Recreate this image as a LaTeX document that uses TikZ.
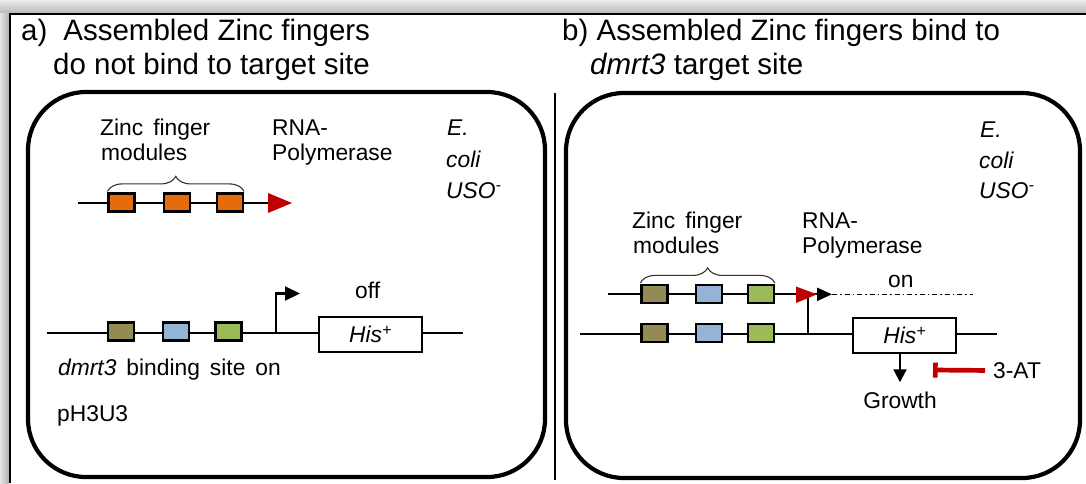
\documentclass[tikz,border=0pt]{standalone}
\usepackage{fontspec}
\setmainfont{Liberation Sans}
\usetikzlibrary{arrows.meta,decorations.pathreplacing}
\definecolor{zforange}{HTML}{E46C0A}
\definecolor{zfolive}{HTML}{948A54}
\definecolor{zfblue}{HTML}{95B3D7}
\definecolor{zfgreen}{HTML}{9BBB59}
\definecolor{polred}{HTML}{C00000}
\newcommand\labfont{\fontsize{22.8}{25}\selectfont\spaceskip=10pt\relax}

\begin{document}
\begin{tikzpicture}[x=1pt,y=-1pt,
    title/.style={anchor=base west,inner sep=0pt,font=\fontsize{29.5}{34}\selectfont},
    lab/.style={anchor=base west,inner sep=0pt,font=\labfont},
    org/.style={lab,font=\fontsize{22.8}{25}\selectfont\itshape},
    strand/.style={line width=2.1pt},
    zfbox/.style={draw,line width=2.2pt,minimum width=26pt,minimum height=18pt,inner sep=0pt},
    hisbox/.style={draw,fill=white,line width=2.1pt,minimum width=103pt,minimum height=35pt,inner sep=0pt,font=\fontsize{22.8}{25}\selectfont\itshape},
    cell/.style={line width=4.2pt,rounded corners=58pt},
    zfbrace/.style={decorate,decoration={brace,amplitude=15pt},line width=1.1pt,draw=black!80},
    tss/.style={strand,-{Triangle[length=15pt,width=14pt]}},
    ]
  \useasboundingbox (0,0) rectangle (1086,483);

  % window frame
  \shade[top color=gray!15,bottom color=gray!55] (0,0) rectangle (1086,13);
  \shade[left color=gray!20,right color=gray!60] (0,13) rectangle (9,483);
  \draw[line width=1.5pt] (1086,14) -- (10,14) -- (10,483);

  % the two cells and the divider
  \draw[cell] (28,92) rectangle (545,477);
  \draw[cell] (566,93) rectangle (1080,478);
  \draw[line width=1.5pt] (555,93) -- (555,480);

  % titles
  \node[title] (titleA1) at (21,40) {a)\hspace{16pt}Assembled Zinc fingers};
  \node[title] (titleA2) at (53,74) {do not bind to target site};
  \node[title] (titleB1) at (562,40) {b) Assembled Zinc fingers bind to};
  \node[title] (titleB2) at (590,74) {\textit{dmrt3} target site};

  %%% a) no binding
  \node[lab] (zincA) at (100,135) {Zinc finger};
  \node[lab] (modA) at (101,160) {modules};
  \node[lab] (rnaA) at (272,135) {RNA-};
  \node[lab] (polA) at (272,160) {Polymerase};
  \node[org] (ecoA1) at (447,135) {E.};
  \node[org] (ecoA2) at (446,167) {coli};
  \node[org] (ecoA3) at (446,198) {USO\textsuperscript{-}};

  \coordinate (fusA0) at (78,203);
  \coordinate (fusA1) at (270,203);
  \draw[strand] (fusA0) -- (fusA1);
  \foreach \x [count=\i] in {121.5,177,230}
    \node[zfbox,fill=zforange] (zfA\i) at (\x,202.5) {};
  \fill[polred] (268,193) -- (292,203) -- (268,213) -- cycle;
  \draw[zfbrace] ([yshift=1pt]zfA1.north west) -- ([yshift=1pt]zfA3.north east);

  \coordinate (dnaA0) at (47,333);
  \coordinate (dnaA1) at (463,333);
  \draw[strand] (dnaA0) -- (dnaA1);
  \foreach \x/\c [count=\i] in {121/zfolive,176/zfblue,228.5/zfgreen}
    \node[zfbox,fill=\c] (bsA\i) at (\x,331.5) {};
  \node[hisbox] (hisA) at (370.5,334.5) {His\textsuperscript{+}};
  \coordinate (tssA) at (276,333);
  \coordinate (tssAend) at (300,293.5);
  \draw[tss] (tssA) |- (tssAend);
  \node[lab] (offA) at (355,298) {off};
  \node[lab] (siteA1) at (58,375) {\textit{dmrt3} binding site on};
  \node[lab] (siteA2) at (57,421) {pH3U3};

  %%% b) binding
  \node[lab] (zincB) at (632,228) {Zinc finger};
  \node[lab] (modB) at (633,253) {modules};
  \node[lab] (rnaB) at (802,228) {RNA-};
  \node[lab] (polB) at (802,253) {Polymerase};
  \node[org] (ecoB1) at (980,137) {E.};
  \node[org] (ecoB2) at (979,168) {coli};
  \node[org] (ecoB3) at (979,198) {USO\textsuperscript{-}};

  \coordinate (fusB0) at (608,294.3);
  \coordinate (fusB1) at (796,294.3);
  \draw[strand] (fusB0) -- (fusB1);
  \foreach \x/\c [count=\i] in {654.5/zfolive,708.8/zfblue,760.8/zfgreen}
    \node[zfbox,fill=\c] (zfB\i) at (\x,294) {};
  \draw[zfbrace] ([yshift=1pt]zfB1.north west) -- ([yshift=1pt]zfB3.north east);

  \coordinate (dnaB0) at (580,334);
  \coordinate (dnaB1) at (997,334);
  \draw[strand] (dnaB0) -- (dnaB1);
  \foreach \x/\c [count=\i] in {654.5/zfolive,708.8/zfblue,760.8/zfgreen}
    \node[zfbox,fill=\c] (bsB\i) at (\x,333) {};
  \node[hisbox] (hisB) at (904.7,335.7) {His\textsuperscript{+}};

  \coordinate (tssB) at (808,334);
  \coordinate (tssBend) at (832,294.3);
  \coordinate (mrnaB) at (973,294.3);
  \draw[tss,-{Triangle[length=15pt,width=13pt]}] (tssB) |- (tssBend);
  \fill[polred] (796,286.5) -- (817,294.3) -- (796,303) -- cycle;
  \draw[line width=1.5pt,dash pattern=on 5pt off 3pt on 1.5pt off 3pt] (tssBend) -- (mrnaB);
  \node[lab] (onB) at (888,287) {on};

  \node[lab,anchor=base] (growB) at (900,408) {Growth};
  \draw[strand,-{Triangle[length=13pt,width=13pt]}] (hisB.south -| growB) -- ([yshift=9pt]growB.north);
  \node[lab] (atB) at (993,378.3) {3-AT};
  \coordinate (blockB) at (933,370);
  \draw[polred,line width=4.7pt,-{Bar[width=15pt]}] ([xshift=-8pt]atB.west) -- (blockB);
\end{tikzpicture}
\end{document}
